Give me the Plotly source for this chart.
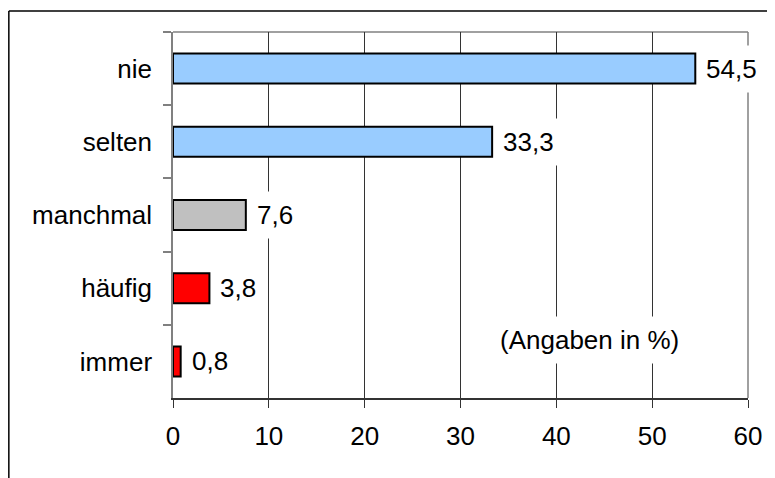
import plotly.graph_objects as go

categories = ["nie", "selten", "manchmal", "häufig", "immer"]
values = [54.5, 33.3, 7.6, 3.8, 0.8]
value_labels = ["54,5", "33,3", "7,6", "3,8", "0,8"]
colors = ["#99CCFF", "#99CCFF", "#C0C0C0", "#FF0000", "#FF0000"]
x_ticks = [0, 10, 20, 30, 40, 50, 60]
note = "(Angaben in %)"

FONT = "Liberation Sans, Arial, sans-serif"
FS = 26

fig = go.Figure()
fig.add_trace(go.Bar(
    x=values, y=categories, orientation="h",
    marker=dict(color=colors, line=dict(color="black", width=2)),
    width=0.41, hoverinfo="skip",
))

for v, c, lab in zip(values, categories, value_labels):
    fig.add_annotation(x=v, y=c, xref="x", yref="y", text=lab, showarrow=False,
                       xanchor="left", yanchor="middle", xshift=2,
                       bgcolor="white", borderpad=8,
                       font=dict(family=FONT, size=FS, color="black"))

fig.add_annotation(x=0.725, y=0.158, xref="paper", yref="paper", text=note,
                   showarrow=False, xanchor="center", yanchor="middle",
                   bgcolor="white", borderpad=8,
                   font=dict(family=FONT, size=FS, color="black"))

# plot area border (top / right)
fig.add_shape(type="line", xref="paper", yref="paper", x0=0, x1=1, y0=1, y1=1,
              line=dict(color="#808080", width=1.5), layer="below")
fig.add_shape(type="line", xref="paper", yref="paper", x0=1, x1=1, y0=0, y1=1,
              line=dict(color="#808080", width=1.5), layer="below")
# outer chart border (left / top)
fig.add_shape(type="line", xref="paper", yref="paper", x0=-0.2855, x1=-0.2855,
              y0=1.0574, y1=-0.3, line=dict(color="black", width=1.5))
fig.add_shape(type="line", xref="paper", yref="paper", x0=-0.2855, x1=1.2,
              y0=1.0574, y1=1.0574, line=dict(color="black", width=1.5))

fig.update_layout(
    width=767, height=470,
    margin=dict(l=165, r=27, t=24, b=80),
    paper_bgcolor="white", plot_bgcolor="white",
    showlegend=False,
    font=dict(family=FONT, size=FS, color="black"),
    xaxis=dict(range=[0, 60], tickvals=x_ticks, ticktext=[str(t) for t in x_ticks],
               showgrid=True, gridcolor="#333333", gridwidth=1,
               showline=True, linecolor="#333333", linewidth=1.5,
               ticks="outside", ticklen=8, tickcolor="#333333", tickwidth=1,
               zeroline=False, ticklabelstandoff=6,
               tickfont=dict(family=FONT, size=FS, color="black")),
    yaxis=dict(autorange="reversed", showgrid=False, zeroline=False,
               showline=True, linecolor="#808080", linewidth=1.5,
               ticks="outside", ticklen=8, tickcolor="#808080", tickwidth=1.5,
               tickson="boundaries", ticklabelstandoff=14,
               tickfont=dict(family=FONT, size=FS, color="black")),
)

fig.write_html("out.html")
